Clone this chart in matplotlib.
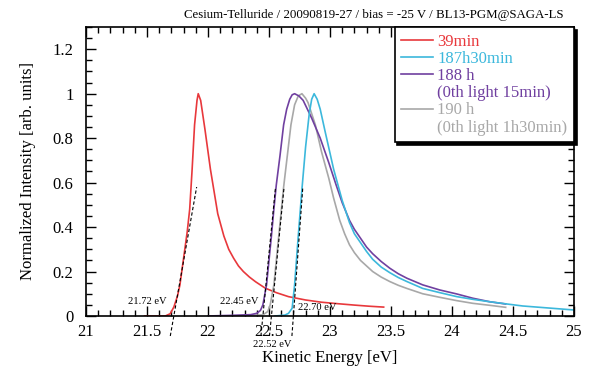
import matplotlib
matplotlib.use("Agg")
import matplotlib.pyplot as plt
from matplotlib.lines import Line2D
from matplotlib.ticker import MultipleLocator

plt.rcParams["font.family"] = ["Liberation Serif", "DejaVu Serif"]

# ----------------------------
# DATA
# ----------------------------
red_x = [21.48, 21.65, 21.69, 21.72, 21.75, 21.77, 21.79, 21.81, 21.83, 21.85, 21.87,
         21.89, 21.91, 21.92, 21.94, 21.975, 22.02, 22.08, 22.13, 22.17, 22.21, 22.25,
         22.29, 22.34, 22.39, 22.47, 22.56, 22.66, 22.80, 22.93, 23.07, 23.20, 23.32, 23.44]
red_y = [0.0, 0.0, 0.01, 0.04, 0.09, 0.14, 0.22, 0.30, 0.38, 0.48, 0.66,
         0.86, 0.97, 1.0, 0.97, 0.84, 0.66, 0.46, 0.36, 0.30, 0.26, 0.225,
         0.20, 0.175, 0.154, 0.125, 0.105, 0.087, 0.072, 0.062, 0.055, 0.049, 0.044, 0.04]

cyan_x = [22.55, 22.63, 22.66, 22.69, 22.71, 22.74, 22.77, 22.80, 22.83, 22.85, 22.87,
          22.895, 22.92, 22.96, 23.03, 23.10, 23.16, 23.20, 23.25, 23.30, 23.35, 23.42,
          23.49, 23.56, 23.63, 23.76, 23.90, 24.04, 24.17, 24.31, 24.45, 24.58, 24.72,
          24.86, 25.0]
cyan_y = [0.0, 0.004, 0.012, 0.035, 0.14, 0.36, 0.57, 0.76, 0.91, 0.975, 1.0,
          0.975, 0.93, 0.83, 0.66, 0.52, 0.42, 0.37, 0.33, 0.29, 0.255, 0.22,
          0.195, 0.173, 0.155, 0.124, 0.105, 0.087, 0.075, 0.064, 0.054, 0.045, 0.039,
          0.033, 0.027]

purple_x = [22.0, 22.2, 22.35, 22.40, 22.43, 22.45, 22.48, 22.50, 22.52, 22.54, 22.56,
            22.59, 22.62, 22.645, 22.67, 22.69, 22.71, 22.745, 22.78, 22.85, 22.92, 22.99,
            23.05, 23.10, 23.16, 23.20, 23.25, 23.30, 23.35, 23.42, 23.49, 23.56, 23.63,
            23.76, 23.90, 24.04, 24.17, 24.31, 24.44]
purple_y = [0.0, 0.003, 0.006, 0.012, 0.025, 0.05, 0.14, 0.25, 0.36, 0.48, 0.59,
            0.72, 0.86, 0.93, 0.975, 0.995, 1.0, 0.99, 0.97, 0.89, 0.80, 0.69,
            0.59, 0.51, 0.43, 0.39, 0.35, 0.31, 0.28, 0.245, 0.215, 0.19, 0.17,
            0.14, 0.117, 0.099, 0.080, 0.064, 0.054]

gray_x = [22.2, 22.45, 22.49, 22.51, 22.54, 22.58, 22.62, 22.65, 22.68, 22.71, 22.74,
          22.77, 22.80, 22.82, 22.88, 22.93, 22.99, 23.03, 23.08, 23.12, 23.16, 23.20,
          23.25, 23.30, 23.35, 23.42, 23.49, 23.56, 23.63, 23.76, 23.90, 24.04, 24.17,
          24.31, 24.44]
gray_y = [0.0, 0.005, 0.02, 0.05, 0.14, 0.36, 0.58, 0.72, 0.86, 0.95, 0.99,
          1.0, 0.98, 0.96, 0.86, 0.74, 0.62, 0.53, 0.43, 0.37, 0.32, 0.285,
          0.25, 0.225, 0.20, 0.175, 0.155, 0.138, 0.124, 0.10, 0.084, 0.069, 0.057,
          0.048, 0.039]

# tangent lines used for the onset estimate
onsets = [21.72, 22.45, 22.52, 22.70]
slopes = [3.1, 5.6, 5.6, 7.5]
onset_labels = ["21.72 eV", "22.45 eV", "22.52 eV", "22.70 eV"]

labels = ["39min", "187h30min", "188 h", "(0th light 15min)", "190 h", "(0th light 1h30min)"]

RED = "#e8383c"
CYAN = "#3cb8dc"
PURPLE = "#7040a0"
GRAY = "#a8a8a8"

# ----------------------------
# PLOT
# ----------------------------
fig = plt.figure(figsize=(5.91, 3.67), dpi=100)
ax = fig.add_axes([0.1455, 0.139, 0.9712 - 0.1455, 0.9264 - 0.139])

ax.plot(red_x, red_y, color=RED, lw=1.2)
ax.plot(gray_x, gray_y, color=GRAY, lw=1.2)
ax.plot(purple_x, purple_y, color=PURPLE, lw=1.2)
ax.plot(cyan_x, cyan_y, color=CYAN, lw=1.2)

for e0, k in zip(onsets, slopes):
    y0, y1 = -0.09, 0.58
    ax.plot([e0 + y0 / k, e0 + y1 / k], [y0, y1], color="black", lw=0.8,
            ls=(0, (3, 2)), clip_on=False)

ax.text(21.66, 0.063, onset_labels[0], fontsize=7.6, ha="right", va="center")
ax.text(22.41, 0.063, onset_labels[1], fontsize=7.6, ha="right", va="center")
ax.text(22.53, -0.127, onset_labels[2], fontsize=7.6, ha="center", va="center")
ax.text(22.74, 0.036, onset_labels[3], fontsize=7.6, ha="left", va="center")

ax.set_xlim(21, 25)
ax.set_ylim(0, 1.3)
ax.xaxis.set_minor_locator(MultipleLocator(0.1))
ax.yaxis.set_minor_locator(MultipleLocator(0.05))
ax.set_xticks([21, 21.5, 22, 22.5, 23, 23.5, 24, 24.5, 25])
ax.set_xticklabels(["21", "21.5", "22", "22.5", "23", "23.5", "24", "24.5", "25"])
ax.set_yticks([0, 0.2, 0.4, 0.6, 0.8, 1.0, 1.2])
ax.set_yticklabels(["0", "0.2", "0.4", "0.6", "0.8", "1", "1.2"])
ax.tick_params(which="both", direction="in", top=True, right=True, labelsize=12, width=1)
ax.tick_params(which="major", length=7)
ax.tick_params(axis="x", which="major", pad=6)
ax.tick_params(axis="y", which="major", pad=9)
ax.tick_params(which="minor", length=4)
for s in ax.spines.values():
    s.set_linewidth(1.2)

ax.set_xlabel("Kinetic Energy [eV]", fontsize=12, labelpad=7)
ax.set_ylabel("Normalized Intensity [arb. units]", fontsize=12, labelpad=12)
fig.text(0.953, 0.958, "Cesium-Telluride / 20090819-27 / bias = -25 V / BL13-PGM@SAGA-LS",
         fontsize=9.3, ha="right", va="center")

# legend: continuation rows get an invisible handle
handle_colors = [RED, CYAN, PURPLE, None, GRAY, None]
text_colors = [RED, CYAN, PURPLE, PURPLE, GRAY, GRAY]
handles = [Line2D([], [], color=c, lw=1.2) if c else Line2D([], [], alpha=0)
           for c in handle_colors]
leg = ax.legend(handles, labels, loc="upper right", borderaxespad=0, fontsize=12,
                frameon=True, fancybox=False, shadow={"color": "black", "alpha": 1},
                edgecolor="black", framealpha=1, handlelength=1.9, handletextpad=0.25,
                labelspacing=0.07, borderpad=0.4)
leg.get_frame().set_linewidth(1.2)
for t, c in zip(leg.get_texts(), text_colors):
    t.set_color(c)

fig.savefig("out.png", dpi=100)
